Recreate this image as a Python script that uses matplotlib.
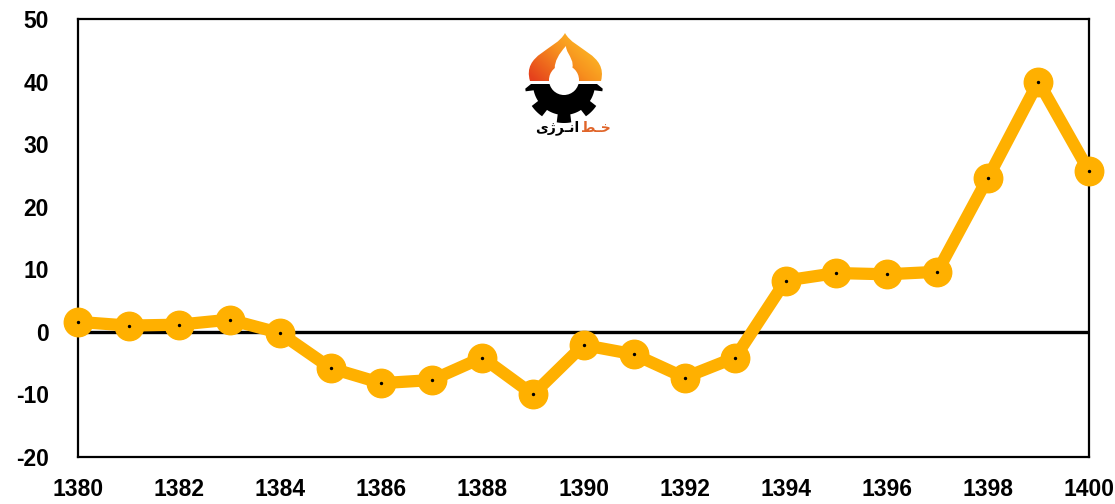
import numpy as np
import matplotlib
matplotlib.use("Agg")
import matplotlib.pyplot as plt
from matplotlib.path import Path
from matplotlib.patches import PathPatch, Circle, Polygon
from matplotlib.colors import LinearSegmentedColormap

# data
years = list(range(1380, 1401))
values = [1.6, 1.0, 1.15, 1.95, -0.2, -5.8, -8.2, -7.7, -4.1, -10.0, -2.1,
          -3.6, -7.3, -4.1, 8.2, 9.4, 9.2, 9.6, 24.6, 40.0, 25.7]
x_ticks = list(range(1380, 1401, 2))
y_ticks = list(range(-20, 51, 10))

LINE_COLOR = "#FFB000"
TICK_FONT = ["Liberation Sans", "DejaVu Sans"]

plt.rcParams["axes.unicode_minus"] = False

W, H = 1115, 504
fig = plt.figure(figsize=(W / 100, H / 100), dpi=100)
ax = fig.add_axes([78 / W, 1 - 457 / H, (1089 - 78) / W, (457 - 19) / H])

ax.axhline(0, color="black", lw=2.4, zorder=1)
ax.plot(years, values, color=LINE_COLOR, lw=8.8, marker="o", markersize=20.5,
        solid_capstyle="round", clip_on=False, zorder=3)
ax.scatter(years, values, s=2, color="black", zorder=4, clip_on=False)

ax.set_xlim(1380, 1400)
ax.set_ylim(-20, 50)
ax.set_xticks(x_ticks)
ax.set_yticks(y_ticks)
ax.tick_params(axis="x", length=0, pad=15)
ax.tick_params(axis="y", length=0, pad=21)
for lab in ax.get_xticklabels() + ax.get_yticklabels():
    lab.set_fontfamily(TICK_FONT)
    lab.set_fontweight("bold")
    lab.set_fontsize(16.5)
for sp in ax.spines.values():
    sp.set_color("black")
    sp.set_linewidth(1.6)

# logo (watermark) drawn in pixel coordinates of the figure
lg = fig.add_axes([515 / W, 1 - 140 / H, 100 / W, 112 / H])
lg.set_xlim(515, 615)
lg.set_ylim(140, 28)
lg.axis("off")

dome = Path([(530, 81), (522, 54), (556, 50), (565, 33),
             (574, 50), (608, 54), (601, 81), (530, 81)],
            [Path.MOVETO, Path.CURVE4, Path.CURVE4, Path.CURVE4,
             Path.CURVE4, Path.CURVE4, Path.CURVE4, Path.CLOSEPOLY])
dome_patch = PathPatch(dome, facecolor="none", edgecolor="none")
lg.add_patch(dome_patch)
flame_cmap = LinearSegmentedColormap.from_list("flame", ["#FFC928", "#F7901E", "#E5401C"])
gx, gy = np.meshgrid(np.linspace(0, 1, 80), np.linspace(0, 1, 80))
grad = np.clip((1 - gx) * 0.75 + gy * 0.45 - 0.1, 0, 1)
im = lg.imshow(grad, extent=(522, 608, 81, 33), cmap=flame_cmap,
               vmin=0, vmax=1, zorder=2, aspect="auto")
im.set_clip_path(dome_patch)

flame = Path([(566, 79), (551, 77), (551, 62), (566, 46),
              (566, 56), (581, 62), (566, 79)],
             [Path.MOVETO, Path.CURVE4, Path.CURVE4, Path.CURVE4,
              Path.CURVE4, Path.CURVE4, Path.CURVE4])
lg.add_patch(PathPatch(flame, facecolor="white", edgecolor="none", zorder=3))

cx, cy = 564, 84
pts = [(cx + 33, cy)]
for th in np.linspace(0.12, np.pi - 0.12, 171):
    deg = np.degrees(th) % 45
    r = 39 if (deg < 11 or deg > 34) else 31
    pts.append((cx + r * np.cos(th), cy + r * np.sin(th)))
pts.append((cx - 33, cy))
lg.add_patch(Polygon(pts, closed=True, facecolor="black", edgecolor="none", zorder=2))
lg.add_patch(Circle((564, 80), 15, facecolor="white", edgecolor="none", zorder=4))

lg.text(579, 128, "\uFBFC\uFB8A\uFEAE\u0640\uFEE7\uFE8D", ha="right", va="center",
        fontsize=10, fontweight="bold", color="black", family=["DejaVu Sans"])
lg.text(581, 128, "\uFEC2\u0640\uFEA7", ha="left", va="center",
        fontsize=10, fontweight="bold", color="#E0652A", family=["DejaVu Sans"])

fig.savefig("out.png", dpi=100)
